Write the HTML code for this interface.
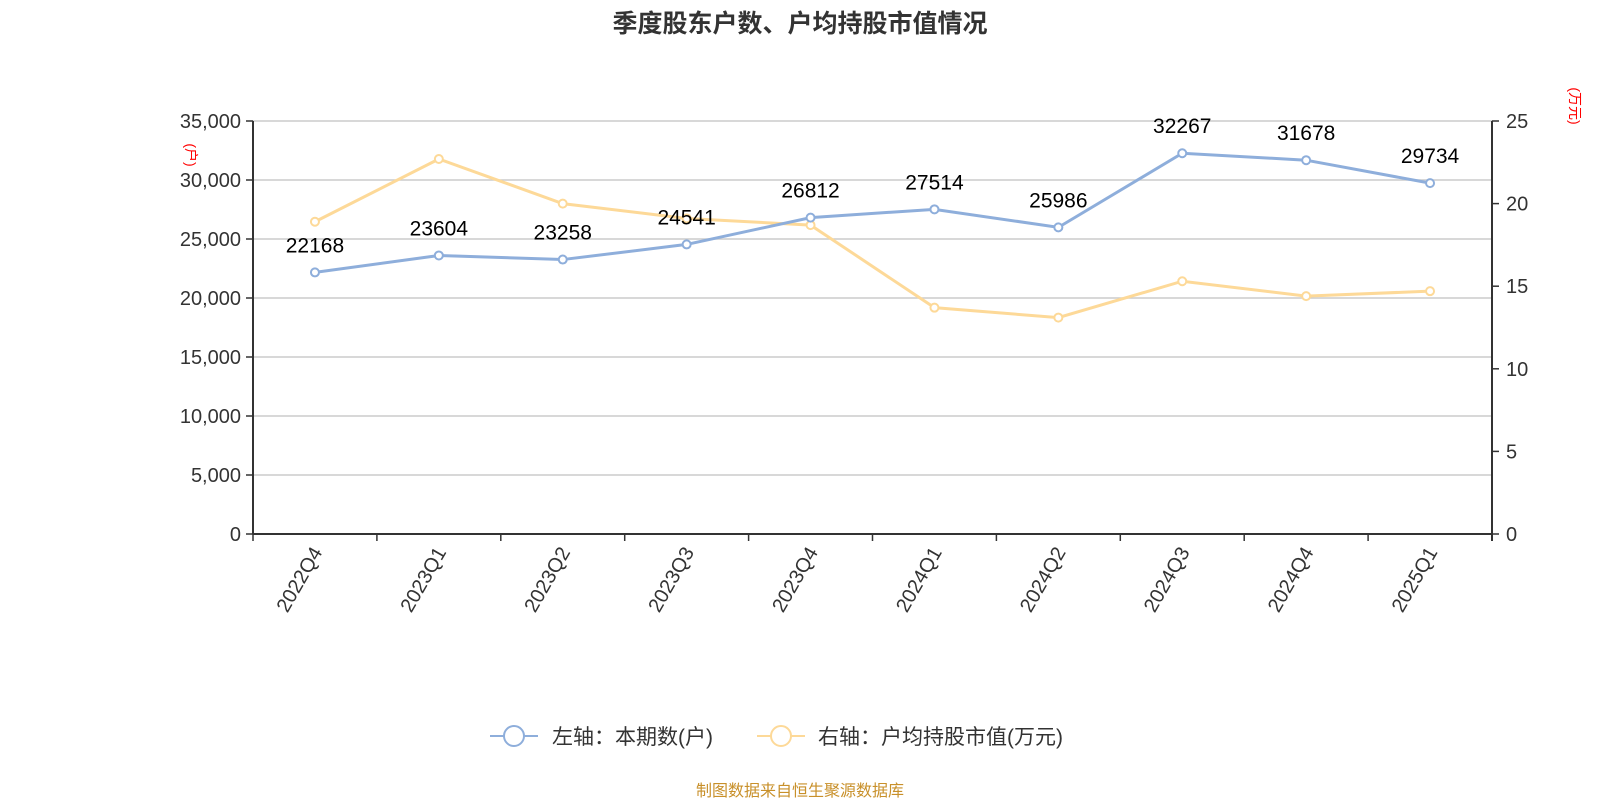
<!DOCTYPE html>
<html><head><meta charset="utf-8"><style>
body{margin:0;background:#fff;}
svg{font-family:"Liberation Sans","Noto Sans CJK SC",sans-serif;}
</style></head><body>
<svg id="c" width="1600" height="800">
<text x="800" y="32" text-anchor="middle" font-size="25" font-weight="bold" fill="#333">季度股东户数、户均持股市值情况</text>
<g id="grid"></g><g id="axes"></g><g id="series"></g>
<text transform="translate(186,155) rotate(90)" text-anchor="middle" font-size="14" fill="#f00">(户)</text>
<text transform="translate(1570,106) rotate(90)" text-anchor="middle" font-size="14" fill="#f00">(万元)</text>
<g>
<line x1="490" y1="736" x2="538" y2="736" stroke="#8eaedb" stroke-width="2"/>
<circle cx="514" cy="736" r="10" fill="#fff" stroke="#8eaedb" stroke-width="2"/>
<text x="552" y="744" font-size="21" fill="#333">左轴：本期数(户)</text></g>
<g>
<line x1="757" y1="736" x2="805" y2="736" stroke="#fdd998" stroke-width="2"/>
<circle cx="781" cy="736" r="10" fill="#fff" stroke="#fdd998" stroke-width="2"/>
<text x="818" y="744" font-size="21" fill="#333">右轴：户均持股市值(万元)</text></g>
<text x="800" y="796" text-anchor="middle" font-size="16" fill="#c8902a">制图数据来自恒生聚源数据库</text>
</svg>
<script>
const categories=["2022Q4","2023Q1","2023Q2","2023Q3","2023Q4","2024Q1","2024Q2","2024Q3","2024Q4","2025Q1"];
const households=[22168,23604,23258,24541,26812,27514,25986,32267,31678,29734];
const avgValue=[18.9,22.7,20.0,19.1,18.7,13.7,13.1,15.3,14.4,14.7];
const leftTicks=[0,5000,10000,15000,20000,25000,30000,35000];
const rightTicks=[0,5,10,15,20,25];
const NS="http://www.w3.org/2000/svg";
const X0=253,X1=1492,Y0=534,Y1=121;
const band=(X1-X0)/categories.length;
const x=i=>X0+band*(i+0.5);
const yL=v=>Y0-(v/35000)*(Y0-Y1);
const yR=v=>Y0-(v/25)*(Y0-Y1);
function mk(tag,attrs,parent,text){const e=document.createElementNS(NS,tag);for(const k in attrs)e.setAttribute(k,attrs[k]);if(text!==undefined)e.textContent=text;document.getElementById(parent).appendChild(e);return e;}
leftTicks.forEach(t=>{
 const g=mk("line",{x1:X0,x2:X1,y1:yL(t),y2:yL(t),stroke:"#ccc","stroke-width":1.5},"grid");
 
 
 mk("line",{x1:X0-7,x2:X0,y1:yL(t),y2:yL(t),stroke:"#333","stroke-width":1.5},"axes");
 const l=mk("text",{x:X0-12,y:yL(t)+7,"text-anchor":"end","font-size":20,fill:"#333"},"axes",t.toLocaleString("en-US"));
 
 
});
rightTicks.forEach(t=>{
 mk("line",{x1:X1,x2:X1+7,y1:yR(t),y2:yR(t),stroke:"#333","stroke-width":1.5},"axes");
 const l=mk("text",{x:X1+14,y:yR(t)+7,"font-size":20,fill:"#333"},"axes",String(t));
 
 
});
mk("line",{x1:X0,x2:X0,y1:Y1,y2:Y0,stroke:"#333","stroke-width":2},"axes");
mk("line",{x1:X1,x2:X1,y1:Y1,y2:Y0+7,stroke:"#333","stroke-width":2},"axes");
mk("line",{x1:X0,x2:X1,y1:Y0,y2:Y0,stroke:"#333","stroke-width":2},"axes");
for(let i=0;i<=categories.length;i++)mk("line",{x1:X0+band*i,x2:X0+band*i,y1:Y0,y2:Y0+7,stroke:"#333","stroke-width":1.5},"axes");
categories.forEach((c,i)=>{
 const l=mk("text",{transform:`translate(${x(i)+8},${Y0+18}) rotate(-60)`,"text-anchor":"end","font-size":20,fill:"#333"},"axes",c);
 
 
});
function series(vals,yf,color,name,labels){
 const p=mk("polyline",{points:vals.map((v,i)=>x(i)+","+yf(v)).join(" "),fill:"none",stroke:color,"stroke-width":3},"series");
 
 
 vals.forEach((v,i)=>{
  const c=mk("circle",{cx:x(i),cy:yf(v),r:4,fill:"#fff",stroke:color,"stroke-width":2},"series");
  
  
  if(labels){
   const t=mk("text",{x:x(i),y:yf(v)-20,"text-anchor":"middle","font-size":21,fill:"#000"},"series",String(v));
   
   
  }
 });
}
series(avgValue,yR,"#fdd998","avg-value",false);
series(households,yL,"#8eaedb","households",true);
</script>
</body></html>
